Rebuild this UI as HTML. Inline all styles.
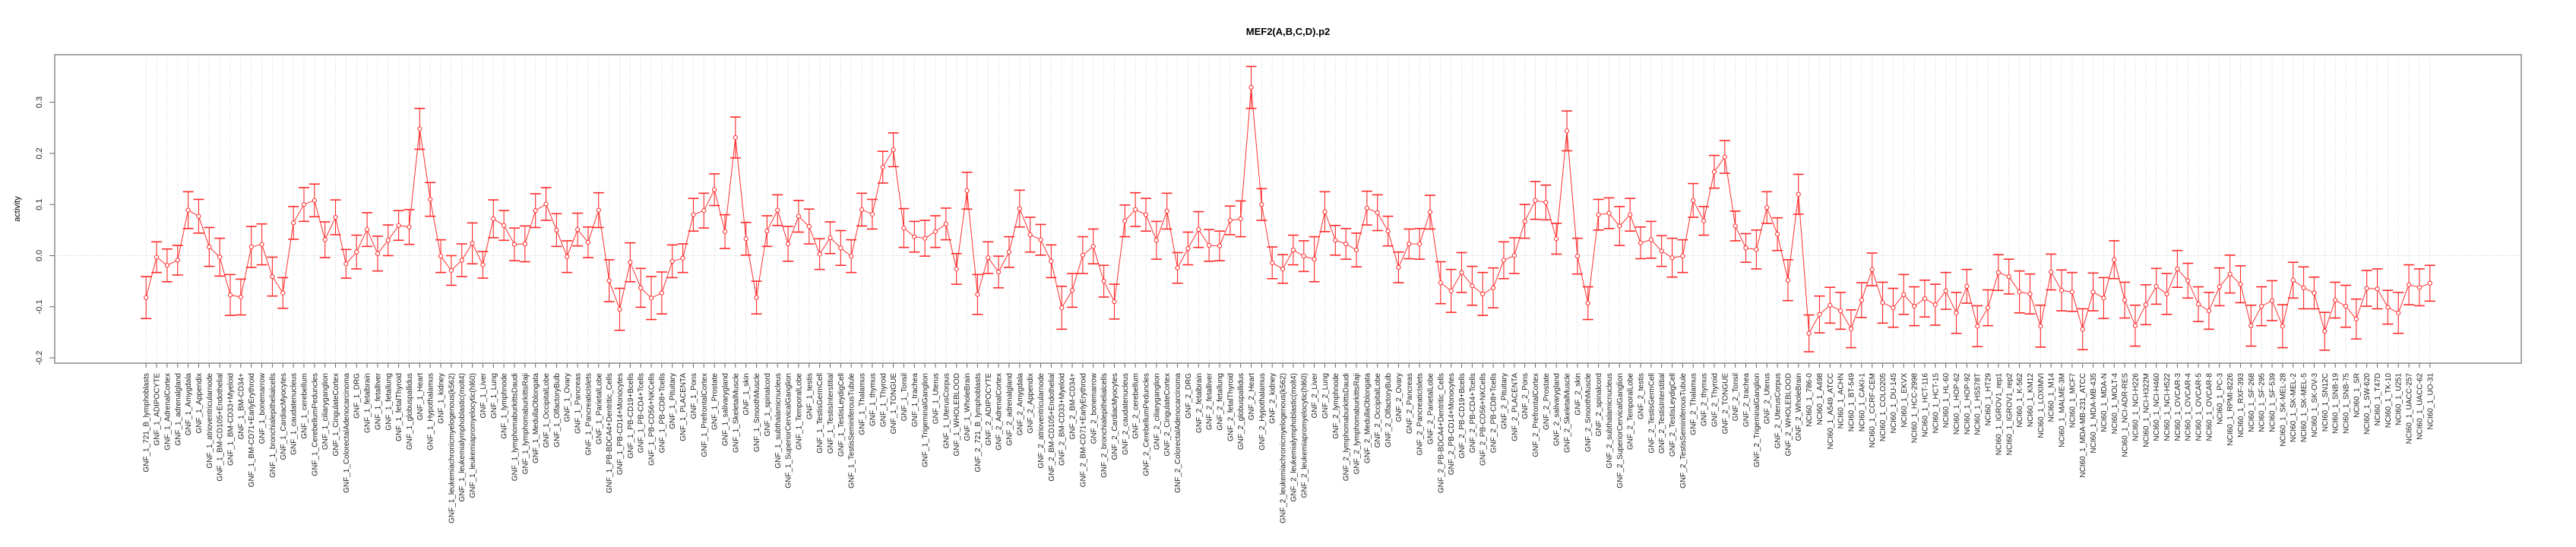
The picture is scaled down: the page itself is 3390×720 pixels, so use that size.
<!DOCTYPE html>
<html>
<head>
<meta charset="utf-8">
<style>
html,body{margin:0;padding:0;background:#fff;}
svg{display:block;}
text{font-family:"Liberation Sans",Arial,sans-serif;}
</style>
</head>
<body>
<svg id="chart" width="3390" height="720" viewBox="0 0 3390 720" xmlns="http://www.w3.org/2000/svg">
  <text x="1695" y="46" text-anchor="middle" font-size="13" font-weight="bold">MEF2(A,B,C,D).p2</text>
  <text transform="translate(26,275) rotate(-90)" text-anchor="middle" font-size="11">activity</text>
  <g id="grid"></g>
  <g id="yaxis"></g>
  <g id="xaxis"></g>
  <g id="series"></g>
  <rect x="72" y="72" width="3246" height="406" fill="none" stroke="#8a8a8a" stroke-width="1.5"/>
</svg>
<script>
const tissues = ["721_B_lymphoblasts","ADIPOCYTE","AdrenalCortex","adrenalgland","Amygdala","Appendix","atrioventricularnode","BM-CD105+Endothelial","BM-CD33+Myeloid","BM-CD34+","BM-CD71+EarlyErythroid","bonemarrow","bronchialepithelialcells","CardiacMyocytes","caudatenucleus","cerebellum","CerebellumPeduncles","ciliaryganglion","CingulateCortex","ColorectalAdenocarcinoma","DRG","fetalbrain","fetalliver","fetallung","fetalThyroid","globuspallidus","Heart","Hypothalamus","kidney","leukemiachronicmyelogenous(k562)","leukemialymphoblastic(molt4)","leukemiapromyelocytic(hl60)","Liver","Lung","lymphnode","lymphomaburkittsDaudi","lymphomaburkittsRaji","MedullaOblongata","OccipitalLobe","OlfactoryBulb","Ovary","Pancreas","PancreaticIslets","ParietalLobe","PB-BDCA4+Dentritic_Cells","PB-CD14+Monocytes","PB-CD19+Bcells","PB-CD4+Tcells","PB-CD56+NKCells","PB-CD8+Tcells","Pituitary","PLACENTA","Pons","PrefrontalCortex","Prostate","salivarygland","SkeletalMuscle","skin","SmoothMuscle","spinalcord","subthalamicnucleus","SuperiorCervicalGanglion","TemporalLobe","testis","TestisGermCell","TestisInterstitial","TestisLeydigCell","TestisSeminiferousTubule","Thalamus","thymus","Thyroid","TONGUE","Tonsil","trachea","TrigeminalGanglion","Uterus","UterusCorpus","WHOLEBLOOD","WholeBrain"];
const cellLines = ["786-0","A498","A549_ATCC","ACHN","BT-549","CAKI-1","CCRF-CEM","COLO205","DU-145","EKVX","HCC-2998","HCT-116","HCT-15","HL-60","HOP-62","HOP-92","HS578T","HT29","IGROV1_rep1","IGROV1_rep2","K-562","KM12","LOXIMVI","M14","MALME-3M","MCF7","MDA-MB-231_ATCC","MDA-MB-435","MDA-N","MOLT-4","NCI-ADR-RES","NCI-H226","NCI-H322M","NCI-H460","NCI-H522","OVCAR-3","OVCAR-4","OVCAR-5","OVCAR-8","PC-3","RPMI-8226","RXF-393","SF-268","SF-295","SF-539","SK-MEL-28","SK-MEL-2","SK-MEL-5","SK-OV-3","SN12C","SNB-19","SNB-75","SR","SW-620","T47D","TK-10","U251","UACC-257","UACC-62","UO-31"];
const categories = tissues.map(t => "GNF_1_" + t).concat(tissues.map(t => "GNF_2_" + t), cellLines.map(c => "NCI60_1_" + c));

const values = [
-0.082,-0.003,-0.019,-0.009,0.089,0.077,0.017,-0.003,-0.077,-0.081,
0.017,0.022,-0.041,-0.073,0.064,0.100,0.108,0.031,0.075,-0.016,
0.007,0.051,0.004,0.030,0.059,0.056,0.248,0.110,-0.001,-0.029,
-0.009,0.024,-0.018,0.072,0.059,0.022,0.023,0.088,0.101,0.050,
-0.002,0.051,0.026,0.089,-0.049,-0.105,-0.013,-0.063,-0.083,-0.073,
-0.011,-0.005,0.080,0.088,0.129,0.047,0.231,0.033,-0.082,0.048,
0.089,0.023,0.077,0.057,0.003,0.035,0.015,-0.001,0.090,0.081,
0.173,0.207,0.054,0.037,0.034,0.047,0.062,-0.026,0.127,-0.076,
-0.004,-0.032,0.007,0.092,0.041,0.031,-0.011,-0.102,-0.068,0.001,
0.018,-0.050,-0.090,0.068,0.090,0.080,0.030,0.087,-0.024,0.014,
0.051,0.020,0.019,0.069,0.072,0.329,0.100,-0.014,-0.026,0.011,
-0.001,-0.007,0.086,0.030,0.023,0.011,0.093,0.084,0.048,-0.023,
0.023,0.023,0.085,-0.053,-0.069,-0.033,-0.059,-0.075,-0.063,-0.009,
0.000,0.067,0.108,0.104,0.033,0.244,-0.001,-0.093,0.080,0.083,
0.058,0.080,0.025,0.031,0.009,-0.004,-0.001,0.108,0.068,0.164,
0.193,0.058,0.015,0.012,0.094,0.042,-0.048,0.120,-0.152,-0.115,
-0.097,-0.108,-0.143,-0.087,-0.027,-0.092,-0.102,-0.076,-0.099,-0.084,
-0.096,-0.069,-0.112,-0.060,-0.138,-0.102,-0.033,-0.041,-0.071,-0.075,
-0.138,-0.032,-0.068,-0.071,-0.144,-0.071,-0.083,-0.008,-0.087,-0.137,
-0.096,-0.060,-0.075,-0.026,-0.049,-0.095,-0.108,-0.061,-0.036,-0.056,
-0.137,-0.099,-0.088,-0.138,-0.048,-0.063,-0.073,-0.148,-0.087,-0.099,
-0.124,-0.064,-0.065,-0.101,-0.112,-0.057,-0.062,-0.054];

const errors = [
0.041,0.030,0.032,0.029,0.036,0.033,0.038,0.037,0.040,0.035,
0.040,0.040,0.038,0.030,0.032,0.033,0.032,0.035,0.034,0.028,
0.033,0.033,0.034,0.030,0.029,0.034,0.040,0.033,0.032,0.029,
0.032,0.040,0.026,0.037,0.029,0.032,0.035,0.033,0.032,0.032,
0.031,0.032,0.030,0.034,0.041,0.041,0.038,0.038,0.042,0.041,
0.032,0.028,0.032,0.034,0.031,0.033,0.040,0.032,0.032,0.030,
0.030,0.034,0.031,0.034,0.030,0.031,0.034,0.032,0.032,0.029,
0.031,0.033,0.038,0.030,0.035,0.031,0.031,0.030,0.036,0.039,
0.031,0.031,0.030,0.036,0.034,0.030,0.032,0.042,0.033,0.036,
0.034,0.031,0.034,0.031,0.033,0.032,0.037,0.035,0.030,0.032,
0.035,0.031,0.029,0.028,0.035,0.041,0.031,0.031,0.028,0.029,
0.030,0.044,0.039,0.029,0.030,0.033,0.033,0.035,0.029,0.030,
0.029,0.030,0.033,0.041,0.042,0.039,0.038,0.042,0.039,0.036,
0.035,0.033,0.037,0.034,0.030,0.039,0.035,0.032,0.030,0.030,
0.038,0.032,0.031,0.036,0.030,0.038,0.032,0.033,0.028,0.032,
0.032,0.029,0.028,0.038,0.031,0.032,0.040,0.039,0.036,0.036,
0.035,0.036,0.037,0.034,0.032,0.040,0.038,0.039,0.038,0.036,
0.040,0.036,0.040,0.033,0.040,0.035,0.035,0.034,0.041,0.039,
0.041,0.035,0.040,0.038,0.040,0.037,0.040,0.037,0.035,0.040,
0.039,0.035,0.040,0.036,0.034,0.034,0.036,0.037,0.037,0.036,
0.040,0.038,0.039,0.042,0.035,0.041,0.031,0.037,0.035,0.041,
0.039,0.035,0.039,0.033,0.040,0.039,0.036,0.035];

const yTicks = [0.3, 0.2, 0.1, 0.0, -0.1, -0.2];
const yTickLabels = ["0.3", "0.2", "0.1", "0.0", "-0.1", "-0.2"];

const NS = "http://www.w3.org/2000/svg";
const L = 72, R = 3318, T = 72, B = 478;
const n = categories.length;
const pad = 0.04 * (n - 1);
function xPos(i) { return L + (i + pad) / (n - 1 + 2 * pad) * (R - L); }
const yMin = -0.2103, yMax = 0.3930;
function yPos(v) { return B - (v - yMin) / (yMax - yMin) * (B - T); }
function mk(tag, attrs, parent) {
  const el = document.createElementNS(NS, tag);
  for (const k in attrs) el.setAttribute(k, attrs[k]);
  parent.appendChild(el);
  return el;
}

const grid = document.getElementById('grid');
const yaxis = document.getElementById('yaxis');
const xaxis = document.getElementById('xaxis');
const series = document.getElementById('series');

// vertical gridlines
for (let i = 0; i < n; i++) {
  const gl = mk('line', {x1: xPos(i), x2: xPos(i), y1: T, y2: B, stroke: '#d0d0d0', 'stroke-width': 1, 'stroke-dasharray': '1,2'}, grid);
  
  
}
// zero line
const zl = mk('line', {x1: L, x2: R, y1: yPos(0), y2: yPos(0), stroke: '#c8c8c8', 'stroke-width': 1, 'stroke-dasharray': '1,2'}, grid);



// y axis ticks
for (let k = 0; k < yTicks.length; k++) {
  const y = yPos(yTicks[k]);
  const tk = mk('line', {x1: L - 7, x2: L, y1: y, y2: y, stroke: '#666', 'stroke-width': 1}, yaxis);
  
  
  const tl = mk('text', {transform: 'translate(55,' + y + ') rotate(-90)', 'text-anchor': 'middle', 'font-size': 11, fill: '#222'}, yaxis);
  tl.textContent = yTickLabels[k];
  
  
}

// x axis ticks & labels
const ax = mk('line', {x1: xPos(0), x2: xPos(n - 1), y1: B, y2: B, stroke: '#666', 'stroke-width': 1}, xaxis);


for (let i = 0; i < n; i++) {
  const x = xPos(i);
  const tk = mk('line', {x1: x, x2: x, y1: B, y2: B + 6, stroke: '#666', 'stroke-width': 1}, xaxis);
  
  
  const tl = mk('text', {transform: 'translate(' + (x + 3.5) + ',' + (B + 13) + ') rotate(-90)', 'text-anchor': 'end', 'font-size': 10, fill: '#222'}, xaxis);
  tl.textContent = categories[i];
  
  
}

// line
let d = '';
for (let i = 0; i < n; i++) d += (i ? 'L' : 'M') + xPos(i).toFixed(2) + ',' + yPos(values[i]).toFixed(2);
const path = mk('path', {d: d, fill: 'none', stroke: '#ff3030', 'stroke-width': 1}, series);



// error bars & points
for (let i = 0; i < n; i++) {
  const x = xPos(i), y0 = yPos(values[i] + errors[i]), y1 = yPos(values[i] - errors[i]), y = yPos(values[i]);
  const g = mk('g', {stroke: '#ff2a2a', 'stroke-width': 1.1, fill: 'none'}, series);
  
  
  mk('line', {x1: x, x2: x, y1: y0, y2: y1}, g);
  mk('line', {x1: x - 7, x2: x + 7, y1: y0, y2: y0, 'stroke-width': 1.6}, g);
  mk('line', {x1: x - 7, x2: x + 7, y1: y1, y2: y1, 'stroke-width': 1.6}, g);
  const c = mk('circle', {cx: x, cy: y, r: 2.6, fill: '#fff', stroke: '#ff2a2a', 'stroke-width': 1}, series);
  
  
}
</script>
</body>
</html>
